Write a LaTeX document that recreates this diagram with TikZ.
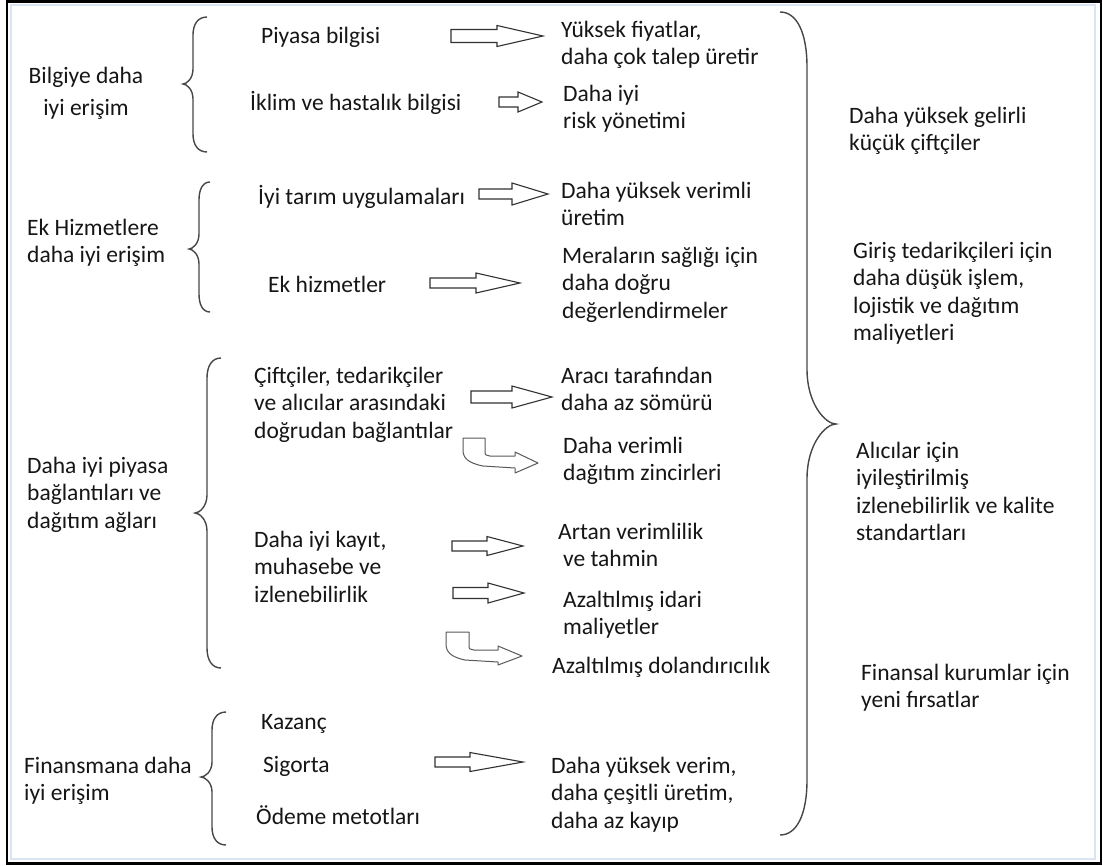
\documentclass[tikz,border=0pt]{standalone}
\usepackage{fontspec}
\setmainfont{Carlito}
\definecolor{frameblue}{RGB}{218,228,244}
\definecolor{inkgray}{RGB}{50,50,50}
\definecolor{textink}{RGB}{22,22,22}
\newcommand\curly[8]{%
 \draw[brc] (#3,#4) .. controls ({#2+0.35*(#3-#2)},#4) and (#2,{#4+0.4*#7}) .. (#2,{#4+#7})
  -- (#2,{#5-#8}) .. controls (#2,{#5-0.35*#8}) and ({#1+0.35*(#2-#1)},#5) .. (#1,#5)
  .. controls ({#1+0.35*(#2-#1)},#5) and (#2,{#5+0.35*#8}) .. (#2,{#5+#8})
  -- (#2,{#6-#7}) .. controls (#2,{#6-0.4*#7}) and ({#2+0.35*(#3-#2)},#6) .. (#3,#6);}
\newcommand\blockarrow[6]{%
 \draw[blk] (#1,{#4-#5}) -- (#2,{#4-#5}) -- (#2,{#4-#6}) -- (#3,#4) -- (#2,{#4+#6}) -- (#2,{#4+#5}) -- (#1,{#4+#5}) -- cycle;}
\begin{document}
\begin{tikzpicture}[x=1pt,y=-1pt,
  txt/.style={anchor=base west, inner sep=0pt, align=left, font=\fontsize{23.5}{27.5}\selectfont, text=textink},
  brc/.style={draw=black!72, line width=1.4pt},
  blk/.style={draw=inkgray, line width=1.1pt, line join=miter},
  bent/.style={draw=black!65, line width=1pt, line join=round},
]
\useasboundingbox (0,0) rectangle (1103,865);
\fill[white] (0,0) rectangle (1103,865);
% frame
\draw[frameblue, line width=2pt] (11,4.5) rectangle (1095,859);
\draw[black, line width=2.6pt] (7,1.3) rectangle (1101,863.5);

% left column (positions = baseline of last line)
\node[txt, align=center, anchor=base] (L1) at (86,115) {Bilgiye daha\\[4.5pt]iyi erişim};
\node[txt] (L2) at (27,262.5) {Ek Hizmetlere\\daha iyi erişim};
\node[txt] (L3) at (27,528) {Daha iyi piyasa\\bağlantıları ve\\dağıtım ağları};
\node[txt] (L4) at (24,800.5) {Finansmana daha\\iyi erişim};

% braces
\curly{183}{193}{207}{17}{84}{152}{18}{15}
\curly{189}{199}{210}{182}{249}{312}{18}{15}
\curly{195}{207}{221}{358}{513}{668}{20}{18}
\curly{201}{212}{226}{712}{777}{845}{18}{15}
\curly{836}{807}{780}{12}{424}{835}{55}{55}

% middle column
\node[txt] (M1) at (261,43) {Piyasa bilgisi};
\node[txt] (M2) at (250,110) {İklim ve hastalık bilgisi};
\node[txt] (M3) at (258,204) {İyi tarım uygulamaları};
\node[txt] (M4) at (268,292) {Ek hizmetler};
\node[txt] (M5) at (254,438) {Çiftçiler, tedarikçiler\\ve alıcılar arasındaki\\doğrudan bağlantılar};
\node[txt] (M6) at (254,602) {Daha iyi kayıt,\\muhasebe ve\\izlenebilirlik};
\node[txt] (M7) at (261,729) {Kazanç};
\node[txt] (M8) at (263,772) {Sigorta};
\node[txt] (M9) at (256,824) {Ödeme metotları};

% results
\node[txt] (R1) at (561,64.5) {Yüksek fiyatlar,\\daha çok talep üretir};
\node[txt] (R2) at (563,128.5) {Daha iyi\\risk yönetimi};
\node[txt] (R3) at (561,225.5) {Daha yüksek verimli\\üretim};
\node[txt] (R4) at (562,318) {Meraların sağlığı için\\daha doğru\\değerlendirmeler};
\node[txt] (R5) at (561,410.5) {Aracı tarafından\\daha az sömürü};
\node[txt] (R6) at (563,480.5) {Daha verimli\\dağıtım zincirleri};
\node[txt] (R7) at (558,566.5) {Artan verimlilik\\\hspace*{5pt}ve tahmin};
\node[txt] (R8) at (563,634.5) {Azaltılmış idari\\maliyetler};
\node[txt] (R9) at (552,673) {Azaltılmış dolandırıcılık};
\node[txt] (R10) at (551,828) {Daha yüksek verim,\\daha çeşitli üretim,\\daha az kayıp};

% right column
\node[txt] (F1) at (849,150.5) {Daha yüksek gelirli\\küçük çiftçiler};
\node[txt] (F2) at (853,340.5) {Giriş tedarikçileri için\\daha düşük işlem,\\lojistik ve dağıtım\\maliyetleri};
\node[txt] (F3) at (856,540.5) {Alıcılar için\\iyileştirilmiş\\izlenebilirlik ve kalite\\standartları};
\node[txt] (F4) at (861,707.5) {Finansal kurumlar için\\yeni fırsatlar};

% block arrows
\blockarrow{451}{497}{543}{36}{6.5}{10.5}
\blockarrow{499}{518}{542}{102}{5}{10}
\blockarrow{479}{512}{548}{194}{5}{11}
\blockarrow{430}{476}{520}{283}{5}{10}
\blockarrow{471}{512}{552}{397}{6}{11}
\blockarrow{452}{487}{523}{546}{5}{9.5}
\blockarrow{453}{488}{524}{593}{5.5}{10}
\blockarrow{435}{470}{523}{762}{5}{9.5}

% bent arrows
\draw[bent] (463,438) -- (485,438) -- (485,451) .. controls (485,455) .. (490,456) -- (515,456) -- (515,452) -- (538,463) -- (515,473) -- (515,468) -- (483,466) .. controls (468,463) and (463,458) .. (463,450) -- cycle;
\draw[bent] (446,632) -- (469,632) -- (469,645) .. controls (469,649) .. (474,650) -- (498,650) -- (498,646) -- (522,656) -- (498,665) -- (498,662) -- (465,660) .. controls (451,657) and (446,652) .. (446,644) -- cycle;
\end{tikzpicture}
\end{document}
